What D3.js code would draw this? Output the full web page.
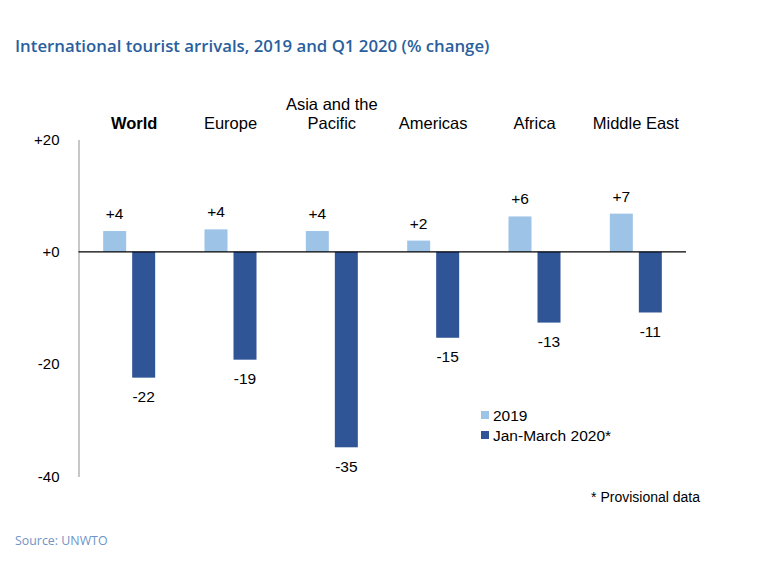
<!DOCTYPE html>
<html><head><meta charset="utf-8">
<script src="https://cdn.jsdelivr.net/npm/d3@7"></script>
<style>body{margin:0;background:#fff}svg{display:block}</style>
</head><body>
<svg id="c" width="768" height="562"></svg>
<script>
const categories = ["World", "Europe", "Asia and the\nPacific", "Americas", "Africa", "Middle East"];
const values2019 = [3.7, 4.0, 3.7, 2.0, 6.3, 6.8];
const valuesQ1 = [-22.4, -19.2, -34.8, -15.3, -12.6, -10.8];
const yTicks = [20, 0, -20, -40];
const seriesNames = ["2019", "Jan-March 2020*"];
const colors = ["#9dc3e6", "#2f5597"];

const svg = d3.select("#c");
const x = d3.scaleBand().domain(categories).range([78.5, 686.5]);
const y = d3.scaleLinear().domain([-40, 20]).range([476.5, 139.5]);
const font = "'Liberation Sans', Arial, sans-serif";
const fmt = v => (v >= 0 ? "+" : "") + Math.round(v);

// title
svg.append("text").attr("x", 15).attr("y", 52).attr("fill", "#2a5f9e")
  .attr("font-family", "'Open Sans', sans-serif").attr("font-size", 16.8).attr("font-weight", 600)
  .text("International tourist arrivals, 2019 and Q1 2020 (% change)");

// y axis
const yAxis = d3.axisLeft(y).tickValues(yTicks).tickSize(0).tickPadding(19).tickFormat(fmt);
const ga = svg.append("g").attr("transform", "translate(78.5,0)").call(yAxis);
ga.select(".domain").attr("stroke", "#909090");
ga.selectAll("text").attr("font-family", font).attr("font-size", 15).attr("fill", "#000");

const bw = 23, gap = 3;
const cx = c => x(c) + x.bandwidth() / 2;

// 2019 bars
svg.append("g").selectAll("rect").data(categories).join("rect")
  .attr("x", c => cx(c) - gap - bw).attr("width", bw)
  .attr("y", (c, i) => y(values2019[i])).attr("height", (c, i) => y(0) - y(values2019[i]))
  .attr("fill", colors[0]);
// Q1 bars
svg.append("g").selectAll("rect").data(categories).join("rect")
  .attr("x", c => cx(c) + gap).attr("width", bw)
  .attr("y", y(0)).attr("height", (c, i) => y(valuesQ1[i]) - y(0))
  .attr("fill", colors[1]);

// zero line
svg.append("line").attr("x1", 78.5).attr("x2", 686).attr("y1", y(0)).attr("y2", y(0))
  .attr("stroke", "#000").attr("stroke-width", 1.2);

// value labels
svg.append("g").selectAll("text").data(categories).join("text")
  .attr("x", c => cx(c) - gap - bw / 2).attr("y", (c, i) => y(values2019[i]) - 12)
  .attr("text-anchor", "middle").attr("font-family", font).attr("font-size", 15.5)
  .text((c, i) => fmt(values2019[i]));
svg.append("g").selectAll("text").data(categories).join("text")
  .attr("x", c => cx(c) + gap + bw / 2).attr("y", (c, i) => y(valuesQ1[i]) + 24.5)
  .attr("text-anchor", "middle").attr("font-family", font).attr("font-size", 15.5)
  .text((c, i) => fmt(valuesQ1[i]));

// category labels
categories.forEach((c, i) => {
  const lines = c.split("\n");
  const t = svg.append("text").attr("text-anchor", "middle").attr("font-family", font)
    .attr("font-size", 16.5).attr("font-weight", i === 0 ? "bold" : "normal");
  lines.forEach((l, k) => {
    t.append("tspan").attr("x", cx(c) + (i === 0 ? 5 : 0))
      .attr("y", 129 - (lines.length - 1 - k) * 18.7).text(l);
  });
});

// legend
seriesNames.forEach((s, i) => {
  svg.append("rect").attr("x", 481).attr("y", 411 + i * 20).attr("width", 8).attr("height", 8).attr("fill", colors[i]);
  svg.append("text").attr("x", 493).attr("y", 421 + i * 20).attr("font-family", font)
    .attr("font-size", 15.5).text(s);
});

svg.append("text").attr("x", 700).attr("y", 502).attr("text-anchor", "end")
  .attr("font-family", font).attr("font-size", 14).text("* Provisional data");

svg.append("text").attr("x", 15).attr("y", 545).attr("fill", "#6f93c6")
  .attr("font-family", "'Open Sans', sans-serif").attr("font-size", 12.4).text("Source: UNWTO");
</script>
</body></html>
